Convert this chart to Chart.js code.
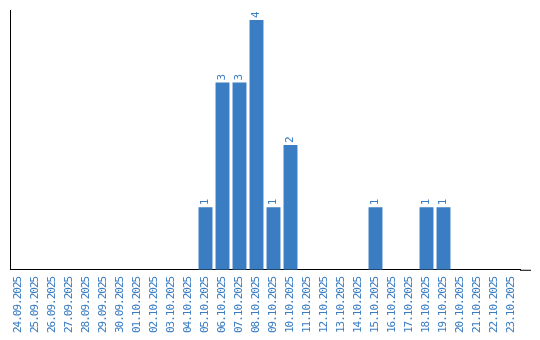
<!DOCTYPE html>
<html>
<head>
<meta charset="utf-8">
<script src="https://cdn.jsdelivr.net/npm/chart.js@4/dist/chart.umd.min.js"></script>
<style>
  html, body { margin: 0; padding: 0; background: #fff; }
  #wrap { width: 540px; height: 340px; }
</style>
</head>
<body>
<div id="wrap"><canvas id="days-chart"></canvas></div>
<script>
const days = [
  "24.09.2025", "25.09.2025", "26.09.2025", "27.09.2025", "28.09.2025",
  "29.09.2025", "30.09.2025", "01.10.2025", "02.10.2025", "03.10.2025",
  "04.10.2025", "05.10.2025", "06.10.2025", "07.10.2025", "08.10.2025",
  "09.10.2025", "10.10.2025", "11.10.2025", "12.10.2025", "13.10.2025",
  "14.10.2025", "15.10.2025", "16.10.2025", "17.10.2025", "18.10.2025",
  "19.10.2025", "20.10.2025", "21.10.2025", "22.10.2025", "23.10.2025",
];
const counts = [
  0, 0, 0, 0, 0,
  0, 0, 0, 0, 0,
  0, 1, 3, 3, 4,
  1, 2, 0, 0, 0,
  0, 1, 0, 0, 1,
  1, 0, 0, 0, 0,
];

const blue = "#3a7dc2";
const fontFamily = "'DejaVu Sans Mono', monospace";

// tighter letters, so the date labels come out tall and narrow
const tightText = {
  id: "tightText",
  beforeLayout(chart) { chart.ctx.letterSpacing = "-1px"; },
  beforeDraw(chart) { chart.ctx.letterSpacing = "-1px"; }
};

// value labels above the bars, rotated like the ticks
const valueLabels = {
  id: "valueLabels",
  afterDatasetsDraw(chart) {
    const ctx = chart.ctx;
    const meta = chart.getDatasetMeta(0);
    ctx.save();
    ctx.font = "11px " + fontFamily;
    ctx.fillStyle = blue;
    ctx.textAlign = "left";
    ctx.textBaseline = "middle";
    meta.data.forEach((bar, i) => {
      if (!counts[i]) return;
      ctx.save();
      ctx.translate(bar.x, bar.y - 2);
      ctx.rotate(-Math.PI / 2);
      ctx.fillText(String(counts[i]), 0, 0);
      ctx.restore();
    });
    ctx.restore();
  }
};

// the x axis line runs a bit past the last bar
const axisTail = {
  id: "axisTail",
  afterDraw(chart) {
    const a = chart.chartArea, ctx = chart.ctx;
    ctx.save();
    ctx.strokeStyle = "#000";
    ctx.lineWidth = 1;
    ctx.beginPath();
    ctx.moveTo(a.right, a.bottom + 0.5);
    ctx.lineTo(a.right + 11, a.bottom + 0.5);
    ctx.stroke();
    ctx.restore();
  }
};

new Chart(document.getElementById("days-chart"), {
  type: "bar",
  data: {
    labels: days,
    datasets: [{
      data: counts,
      backgroundColor: blue,
      categoryPercentage: 0.9,
      barPercentage: 0.91,
    }]
  },
  options: {
    responsive: true,
    maintainAspectRatio: false,
    animation: false,
    layout: { padding: { left: 10, right: 20, top: 10, bottom: 0 } },
    plugins: { legend: { display: false }, tooltip: { enabled: false } },
    scales: {
      x: {
        grid: { display: false, drawTicks: false },
        border: { display: true, color: "#000", width: 1 },
        ticks: {
          color: blue,
          font: { family: fontFamily, size: 11 },
          minRotation: 90,
          maxRotation: 90,
          autoSkip: false,
          padding: 7,
        }
      },
      y: {
        min: 0,
        max: 4.16,
        grid: { display: false, drawTicks: false },
        border: { display: true, color: "#000", width: 1 },
        ticks: { display: false }
      }
    }
  },
  plugins: [tightText, valueLabels, axisTail]
});
</script>
</body>
</html>
